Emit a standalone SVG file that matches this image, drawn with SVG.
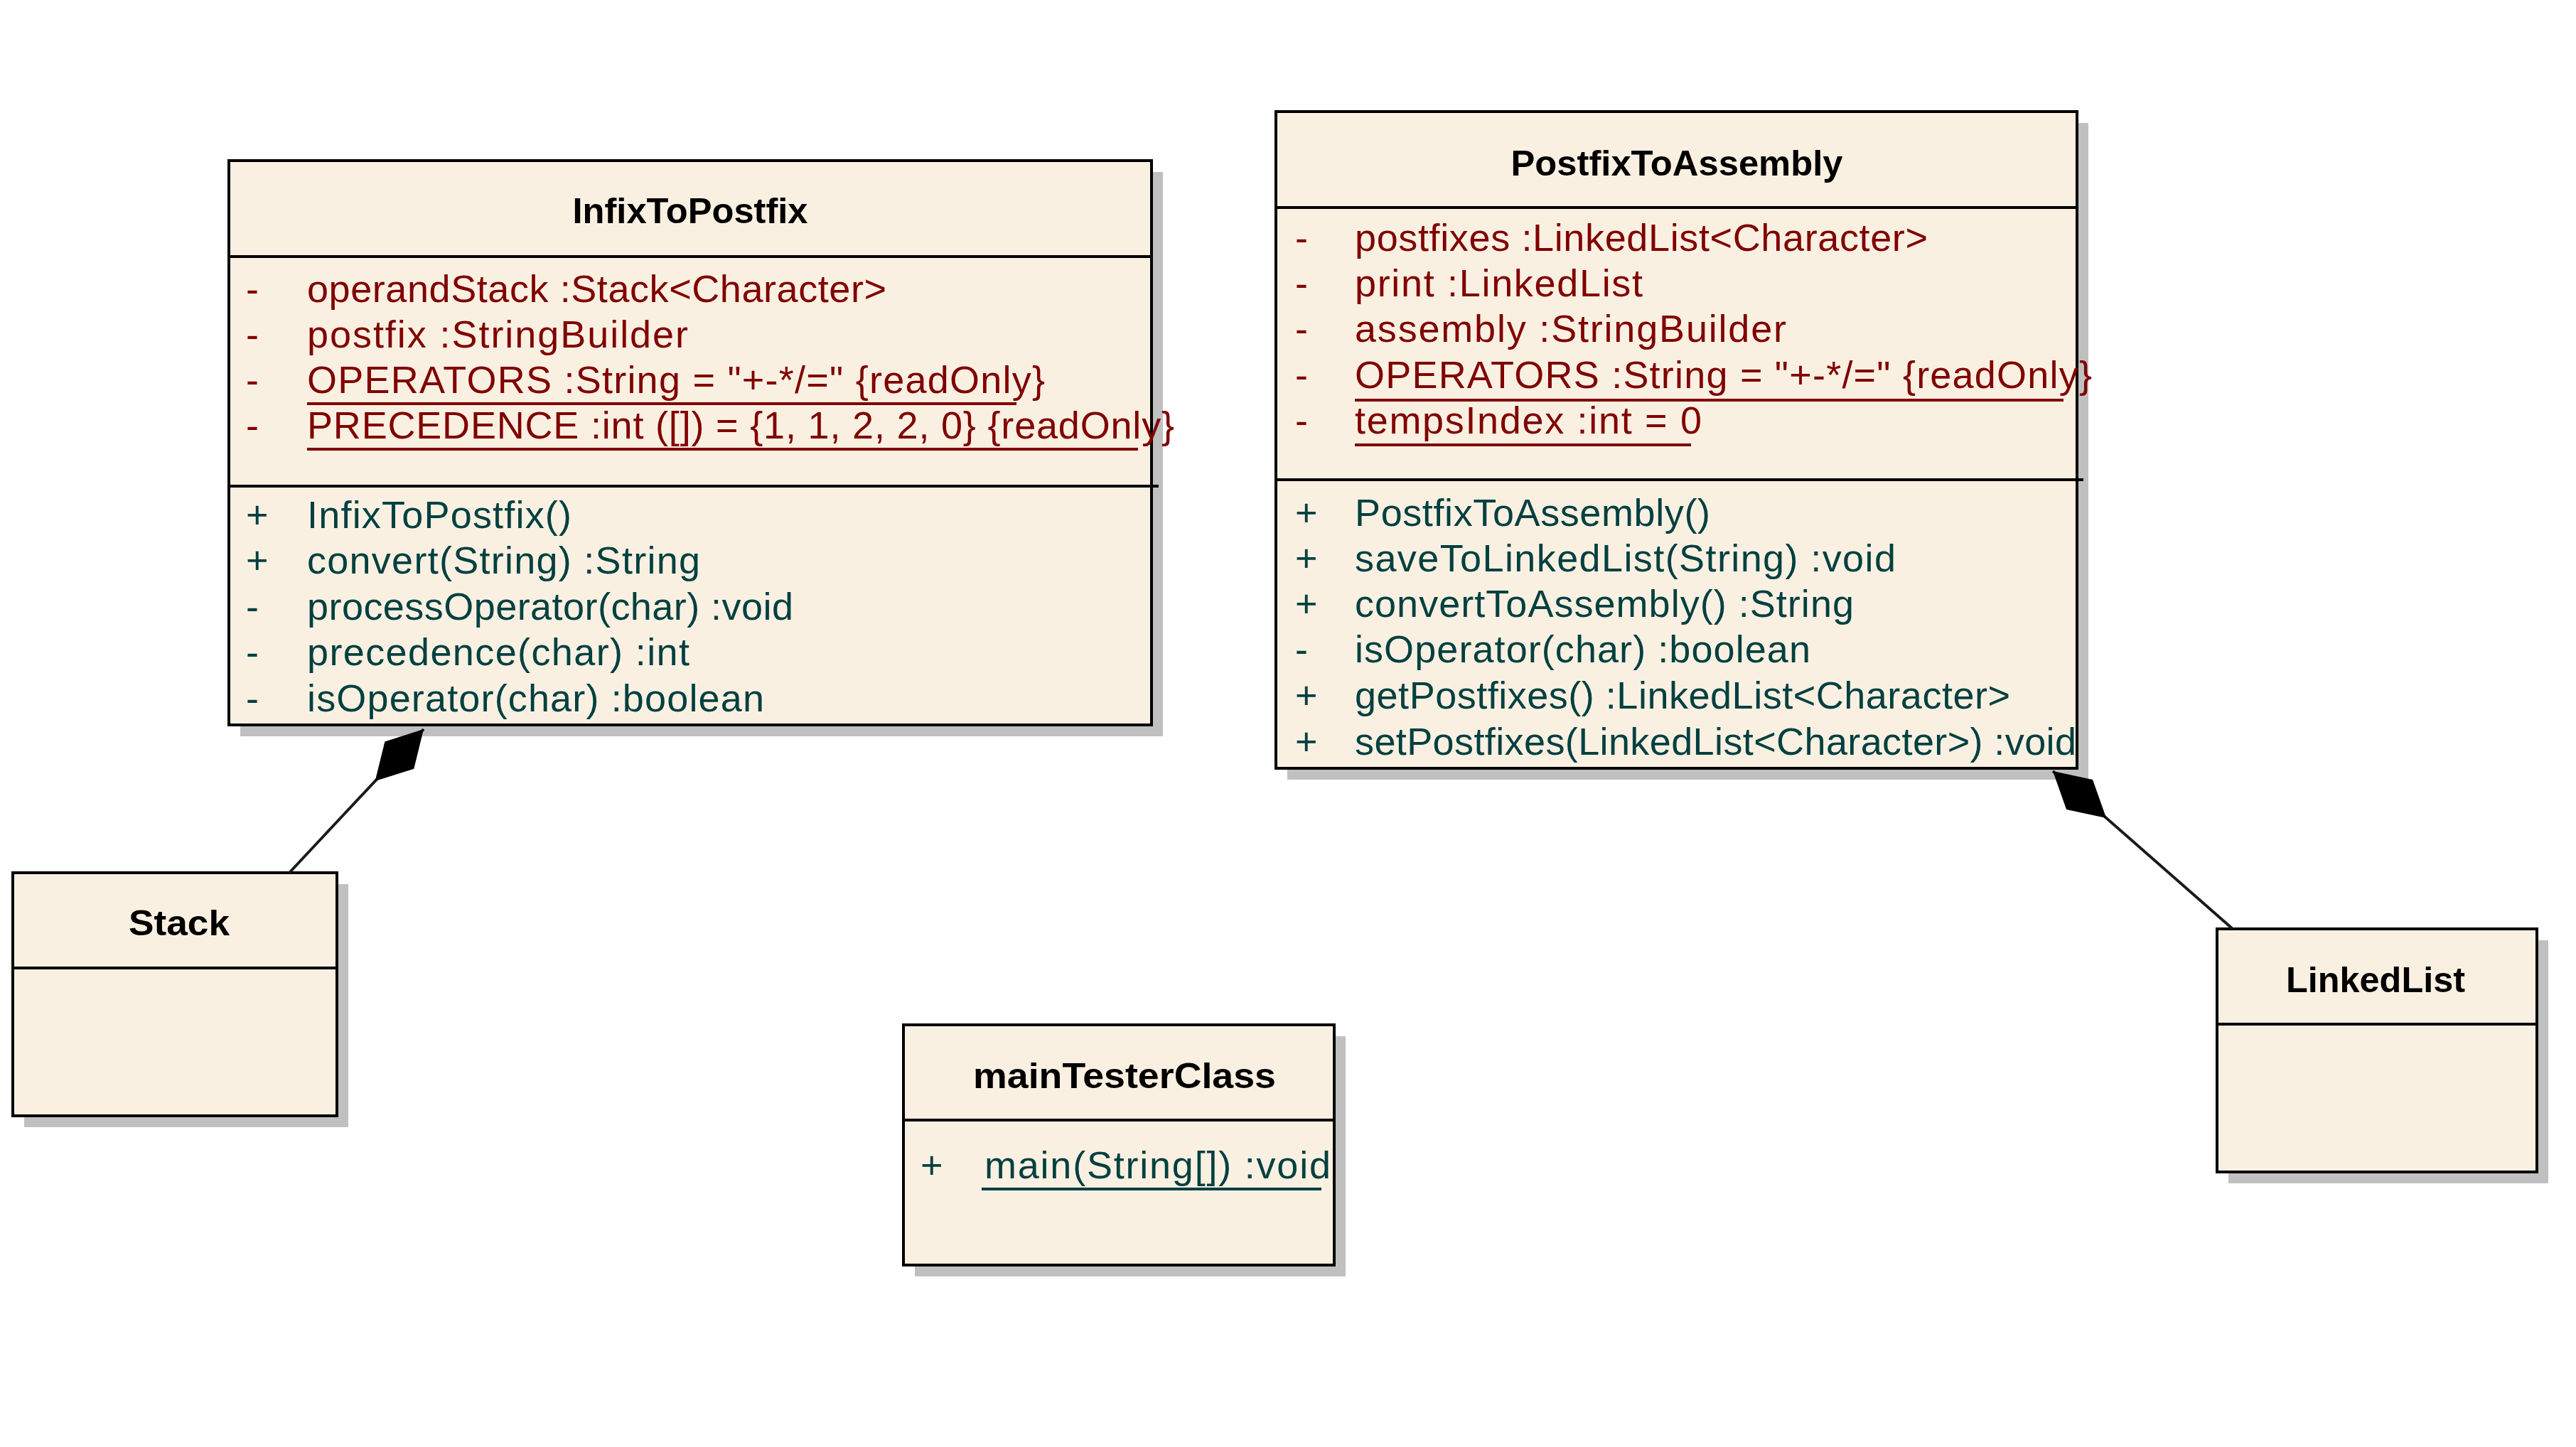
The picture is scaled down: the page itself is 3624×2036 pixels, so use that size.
<svg xmlns="http://www.w3.org/2000/svg" width="3624" height="2036" viewBox="0 0 3624 2036">
<style>
.bg{fill:#FFFFFF}
.shadow{fill:#C0C0C0}
.box{fill:#FAF0E2;stroke:#000;stroke-width:4}
.sep{stroke:#000;stroke-width:4}
.title{font-family:"Liberation Sans",Arial,sans-serif;font-weight:bold;font-size:50px;fill:#000;text-anchor:middle}
.attr{font-family:"Liberation Sans",Arial,sans-serif;font-size:54px;fill:#800000}
.meth{font-family:"Liberation Sans",Arial,sans-serif;font-size:54px;fill:#004040}
.ula{stroke:#800000;stroke-width:4}
.ulm{stroke:#004040;stroke-width:4}
.conn{stroke:#1a1a1a;stroke-width:4;fill:none}
</style>
<defs>
<marker id="diamond" markerUnits="userSpaceOnUse" markerWidth="104" markerHeight="62" viewBox="-2 -31 104 62" refX="100" refY="0" orient="auto">
<path d="M0,0 L50,-28 L100,0 L50,28 Z" fill="#000"/>
</marker>
</defs>
<rect class="bg" x="0" y="0" width="3624" height="2036"/>

<g id="InfixToPostfix">
<rect class="shadow" x="338" y="242" width="1298" height="794"/>
<rect class="box" x="322" y="226" width="1298" height="794"/>
<line class="sep" x1="322" y1="361" x2="1620" y2="361"/>
<line class="sep" x1="322" y1="684" x2="1630" y2="684"/>
<text class="title" x="971" y="314" textLength="331" lengthAdjust="spacingAndGlyphs">InfixToPostfix</text>
<text class="attr" x="346" y="425">-</text>
<text class="attr" x="432" y="425" textLength="815" lengthAdjust="spacing">operandStack :Stack&lt;Character&gt;</text>
<text class="attr" x="346" y="489">-</text>
<text class="attr" x="432" y="489" textLength="536" lengthAdjust="spacing">postfix :StringBuilder</text>
<text class="attr" x="346" y="553">-</text>
<text class="attr" x="432" y="553" textLength="1038" lengthAdjust="spacing">OPERATORS :String = "+-*/=" {readOnly}</text>
<line class="ula" x1="432" y1="568" x2="1430" y2="568"/>
<text class="attr" x="346" y="617">-</text>
<text class="attr" x="432" y="617" textLength="1220" lengthAdjust="spacing">PRECEDENCE :int ([]) = {1, 1, 2, 2, 0} {readOnly}</text>
<line class="ula" x1="432" y1="632" x2="1601" y2="632"/>
<text class="meth" x="346" y="743">+</text>
<text class="meth" x="432" y="743" textLength="372" lengthAdjust="spacing">InfixToPostfix()</text>
<text class="meth" x="346" y="807">+</text>
<text class="meth" x="432" y="807" textLength="553" lengthAdjust="spacing">convert(String) :String</text>
<text class="meth" x="346" y="872">-</text>
<text class="meth" x="432" y="872" textLength="684" lengthAdjust="spacing">processOperator(char) :void</text>
<text class="meth" x="346" y="936">-</text>
<text class="meth" x="432" y="936" textLength="538" lengthAdjust="spacing">precedence(char) :int</text>
<text class="meth" x="346" y="1001">-</text>
<text class="meth" x="432" y="1001" textLength="643" lengthAdjust="spacing">isOperator(char) :boolean</text>
</g>

<g id="PostfixToAssembly">
<rect class="shadow" x="1811" y="173" width="1127" height="924"/>
<rect class="box" x="1795" y="157" width="1127" height="924"/>
<line class="sep" x1="1795" y1="292" x2="2922" y2="292"/>
<line class="sep" x1="1795" y1="675" x2="2931" y2="675"/>
<text class="title" x="2359" y="247" textLength="467" lengthAdjust="spacingAndGlyphs">PostfixToAssembly</text>
<text class="attr" x="1822" y="353">-</text>
<text class="attr" x="1906" y="353" textLength="806" lengthAdjust="spacing">postfixes :LinkedList&lt;Character&gt;</text>
<text class="attr" x="1822" y="417">-</text>
<text class="attr" x="1906" y="417" textLength="405" lengthAdjust="spacing">print :LinkedList</text>
<text class="attr" x="1822" y="481">-</text>
<text class="attr" x="1906" y="481" textLength="607" lengthAdjust="spacing">assembly :StringBuilder</text>
<text class="attr" x="1822" y="546">-</text>
<text class="attr" x="1906" y="546" textLength="1037" lengthAdjust="spacing">OPERATORS :String = "+-*/=" {readOnly}</text>
<line class="ula" x1="1906" y1="563" x2="2903" y2="563"/>
<text class="attr" x="1822" y="610">-</text>
<text class="attr" x="1906" y="610" textLength="488" lengthAdjust="spacing">tempsIndex :int = 0</text>
<line class="ula" x1="1906" y1="626" x2="2379" y2="626"/>
<text class="meth" x="1822" y="740">+</text>
<text class="meth" x="1906" y="740" textLength="500" lengthAdjust="spacing">PostfixToAssembly()</text>
<text class="meth" x="1822" y="804">+</text>
<text class="meth" x="1906" y="804" textLength="761" lengthAdjust="spacing">saveToLinkedList(String) :void</text>
<text class="meth" x="1822" y="868">+</text>
<text class="meth" x="1906" y="868" textLength="702" lengthAdjust="spacing">convertToAssembly() :String</text>
<text class="meth" x="1822" y="932">-</text>
<text class="meth" x="1906" y="932" textLength="641" lengthAdjust="spacing">isOperator(char) :boolean</text>
<text class="meth" x="1822" y="997">+</text>
<text class="meth" x="1906" y="997" textLength="922" lengthAdjust="spacing">getPostfixes() :LinkedList&lt;Character&gt;</text>
<text class="meth" x="1822" y="1062">+</text>
<text class="meth" x="1906" y="1062" textLength="1015" lengthAdjust="spacing">setPostfixes(LinkedList&lt;Character&gt;) :void</text>
</g>

<g id="Stack">
<rect class="shadow" x="34" y="1244" width="456" height="342"/>
<rect class="box" x="18" y="1228" width="456" height="342"/>
<line class="sep" x1="18" y1="1362" x2="474" y2="1362"/>
<text class="title" x="252" y="1316" textLength="142" lengthAdjust="spacingAndGlyphs">Stack</text>
</g>

<g id="mainTesterClass">
<rect class="shadow" x="1287" y="1458" width="606" height="338"/>
<rect class="box" x="1271" y="1442" width="606" height="338"/>
<line class="sep" x1="1271" y1="1576" x2="1877" y2="1576"/>
<text class="title" x="1582" y="1531" textLength="426" lengthAdjust="spacingAndGlyphs">mainTesterClass</text>
<text class="meth" x="1295" y="1658">+</text>
<text class="meth" x="1385" y="1658" textLength="487" lengthAdjust="spacing">main(String[]) :void</text>
<line class="ulm" x1="1381" y1="1673" x2="1859" y2="1673"/>
</g>

<g id="LinkedList">
<rect class="shadow" x="3135" y="1323" width="450" height="342"/>
<rect class="box" x="3119" y="1307" width="450" height="342"/>
<line class="sep" x1="3119" y1="1441" x2="3569" y2="1441"/>
<text class="title" x="3342" y="1396" textLength="252" lengthAdjust="spacingAndGlyphs">LinkedList</text>
</g>

<g id="connectors">
<line class="conn" x1="407" y1="1228" x2="596" y2="1026" marker-end="url(#diamond)"/>
<line class="conn" x1="3141" y1="1307" x2="2888" y2="1085" marker-end="url(#diamond)"/>
</g>
</svg>
